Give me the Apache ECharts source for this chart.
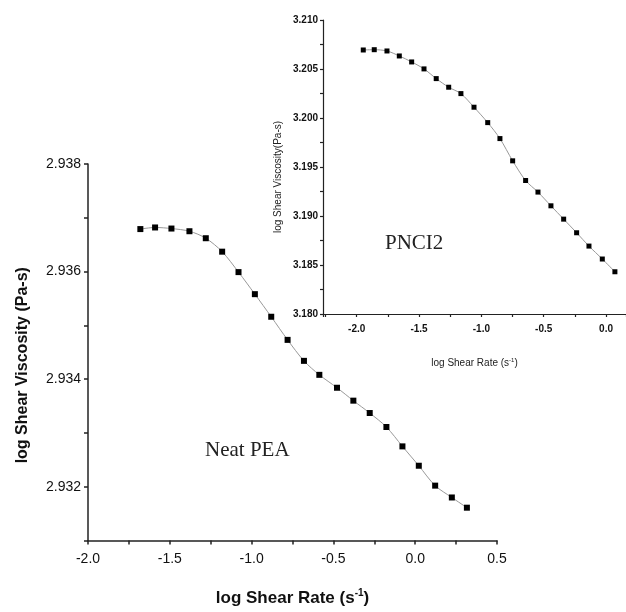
<!DOCTYPE html>
<html>
<head>
<meta charset="utf-8">
<script src="https://cdn.jsdelivr.net/npm/echarts@6/dist/echarts.min.js"></script>
<style>html,body{margin:0;padding:0;background:#fff}#c{width:626px;height:612px}</style>
</head>
<body>
<div id="c"></div>
<script>
// Main chart: Neat PEA
const neatX = [-1.68, -1.59, -1.49, -1.38, -1.28, -1.18, -1.08, -0.98, -0.88, -0.78, -0.68, -0.586, -0.478, -0.378, -0.278, -0.176, -0.078, 0.022, 0.122, 0.224, 0.316];
const neatY = [2.93679, 2.93682, 2.93680, 2.93675, 2.93662, 2.93637, 2.93599, 2.93558, 2.93516, 2.93473, 2.93434, 2.93408, 2.93384, 2.93360, 2.93337, 2.93311, 2.93275, 2.93239, 2.93202, 2.93180, 2.93161];
// Inset: PNCI2
const pnciX = [-1.947, -1.859, -1.757, -1.658, -1.559, -1.460, -1.362, -1.262, -1.164, -1.059, -0.949, -0.851, -0.749, -0.645, -0.546, -0.442, -0.340, -0.236, -0.137, -0.030, 0.071];
const pnciY = [3.20694, 3.20697, 3.20684, 3.20633, 3.20572, 3.20501, 3.20402, 3.20314, 3.20249, 3.20110, 3.19953, 3.19790, 3.19563, 3.19362, 3.19244, 3.19104, 3.18968, 3.18829, 3.18693, 3.18561, 3.18431];
const mainYTicks = ['2.932', '2.934', '2.936', '2.938'];
const insetYTicks = ['3.180', '3.185', '3.190', '3.195', '3.200', '3.205', '3.210'];
const insetXTicks = ['-2.0', '-1.5', '-1.0', '-0.5', '0.0'];

const neatData = neatX.map((x, i) => [x, neatY[i]]);
const pnciData = pnciX.map((x, i) => [x, pnciY[i]]);

const FONT = 'Liberation Sans';
const chart = echarts.init(document.getElementById('c'), null, {renderer: 'canvas'});

const axisLine = {show: true, onZero: false, lineStyle: {color: '#222', width: 1.5}};
const axisLineS = {show: true, onZero: false, lineStyle: {color: '#222', width: 1.2}};

chart.setOption({
  backgroundColor: '#fff',
  animation: false,
  grid: [
    {left: 88, top: 164, width: 409, height: 378},
    {left: 323, top: 20, width: 303, height: 294}
  ],
  xAxis: [
    {
      gridIndex: 0, type: 'value', min: -2.0, max: 0.5, interval: 0.5,
      axisLine: axisLine,
      axisTick: {show: true, length: 4, inside: false, lineStyle: {color: '#222', width: 1.5}},
      minorTick: {show: true, splitNumber: 2, length: 4, lineStyle: {color: '#222', width: 1.5}},
      splitLine: {show: false},
      axisLabel: {fontFamily: FONT, fontSize: 14, color: '#111', margin: 12, formatter: v => v.toFixed(1)},
      name: '{a|log Shear Rate (s}{s|-1}{a|)}',
      nameLocation: 'middle', nameGap: 48,
      nameTextStyle: {
        rich: {
          a: {fontFamily: FONT, fontSize: 17, fontWeight: 'bold', color: '#111', lineHeight: 20},
          s: {fontFamily: FONT, fontSize: 10, fontWeight: 'bold', color: '#111', lineHeight: 10, verticalAlign: 'top'}
        }
      }
    },
    {
      gridIndex: 1, type: 'value', min: -2.27, max: 0.16, splitNumber: 5,
      axisLine: axisLineS,
      axisTick: {show: true, length: 3, lineStyle: {color: '#222', width: 1.2}},
      minorTick: {show: true, splitNumber: 2, length: 3, lineStyle: {color: '#222', width: 1.2}},
      splitLine: {show: false},
      axisLabel: {fontFamily: FONT, fontSize: 10, fontWeight: 'bold', color: '#111', margin: 10,
        showMinLabel: false, showMaxLabel: false,
        formatter: v => {const s = v.toFixed(1); return insetXTicks.indexOf(s) >= 0 ? s : '';}},
      name: '{a|log Shear Rate (s}{s|-1}{a|)}',
      nameLocation: 'middle', nameGap: 43,
      nameTextStyle: {
        rich: {
          a: {fontFamily: FONT, fontSize: 10, color: '#222', lineHeight: 12},
          s: {fontFamily: FONT, fontSize: 6, color: '#222', lineHeight: 6, verticalAlign: 'top'}
        }
      }
    }
  ],
  yAxis: [
    {
      gridIndex: 0, type: 'value', min: 2.931, max: 2.938, interval: 0.001,
      axisLine: axisLine,
      axisTick: {show: true, length: 4, lineStyle: {color: '#222', width: 1.5}},
      splitLine: {show: false},
      axisLabel: {fontFamily: FONT, fontSize: 14, color: '#111', margin: 7,
        formatter: v => {const s = v.toFixed(3); return mainYTicks.indexOf(s) >= 0 ? s : '';}},
      name: 'log Shear Viscosity (Pa-s)',
      nameLocation: 'middle', nameGap: 57, nameRotate: 90,
      nameTextStyle: {fontFamily: FONT, fontSize: 16, fontWeight: 'bold', color: '#111', padding: [0, 0, 0, -26]}
    },
    {
      gridIndex: 1, type: 'value', min: 3.180, max: 3.210, interval: 0.005,
      axisLine: axisLineS,
      axisTick: {show: true, length: 3, lineStyle: {color: '#222', width: 1.2}},
      minorTick: {show: true, splitNumber: 2, length: 3, lineStyle: {color: '#222', width: 1.2}},
      splitLine: {show: false},
      axisLabel: {fontFamily: FONT, fontSize: 10, fontWeight: 'bold', color: '#111', margin: 5,
        formatter: v => {const s = v.toFixed(3); return insetYTicks.indexOf(s) >= 0 ? s : '';}},
      name: 'log Shear Viscosity(Pa-s)',
      nameLocation: 'middle', nameGap: 40, nameRotate: 90,
      nameTextStyle: {fontFamily: FONT, fontSize: 10, color: '#222', padding: [0, 0, 0, -20]}
    }
  ],
  graphic: [
    {type: 'text', left: 205, top: 440, style: {text: 'Neat PEA', font: '21px "Liberation Serif"', fill: '#222'}},
    {type: 'text', left: 385, top: 233, style: {text: 'PNCI2', font: '21px "Liberation Serif"', fill: '#222'}}
  ],
  series: [
    {
      type: 'line', xAxisIndex: 0, yAxisIndex: 0, data: neatData, smooth: 0.3,
      symbol: 'rect', symbolSize: 6,
      lineStyle: {color: '#999', width: 1},
      itemStyle: {color: '#000'}
    },
    {
      type: 'line', xAxisIndex: 1, yAxisIndex: 1, data: pnciData, smooth: 0.3,
      symbol: 'rect', symbolSize: 5,
      lineStyle: {color: '#999', width: 1},
      itemStyle: {color: '#000'}
    }
  ]
});
</script>
</body>
</html>
